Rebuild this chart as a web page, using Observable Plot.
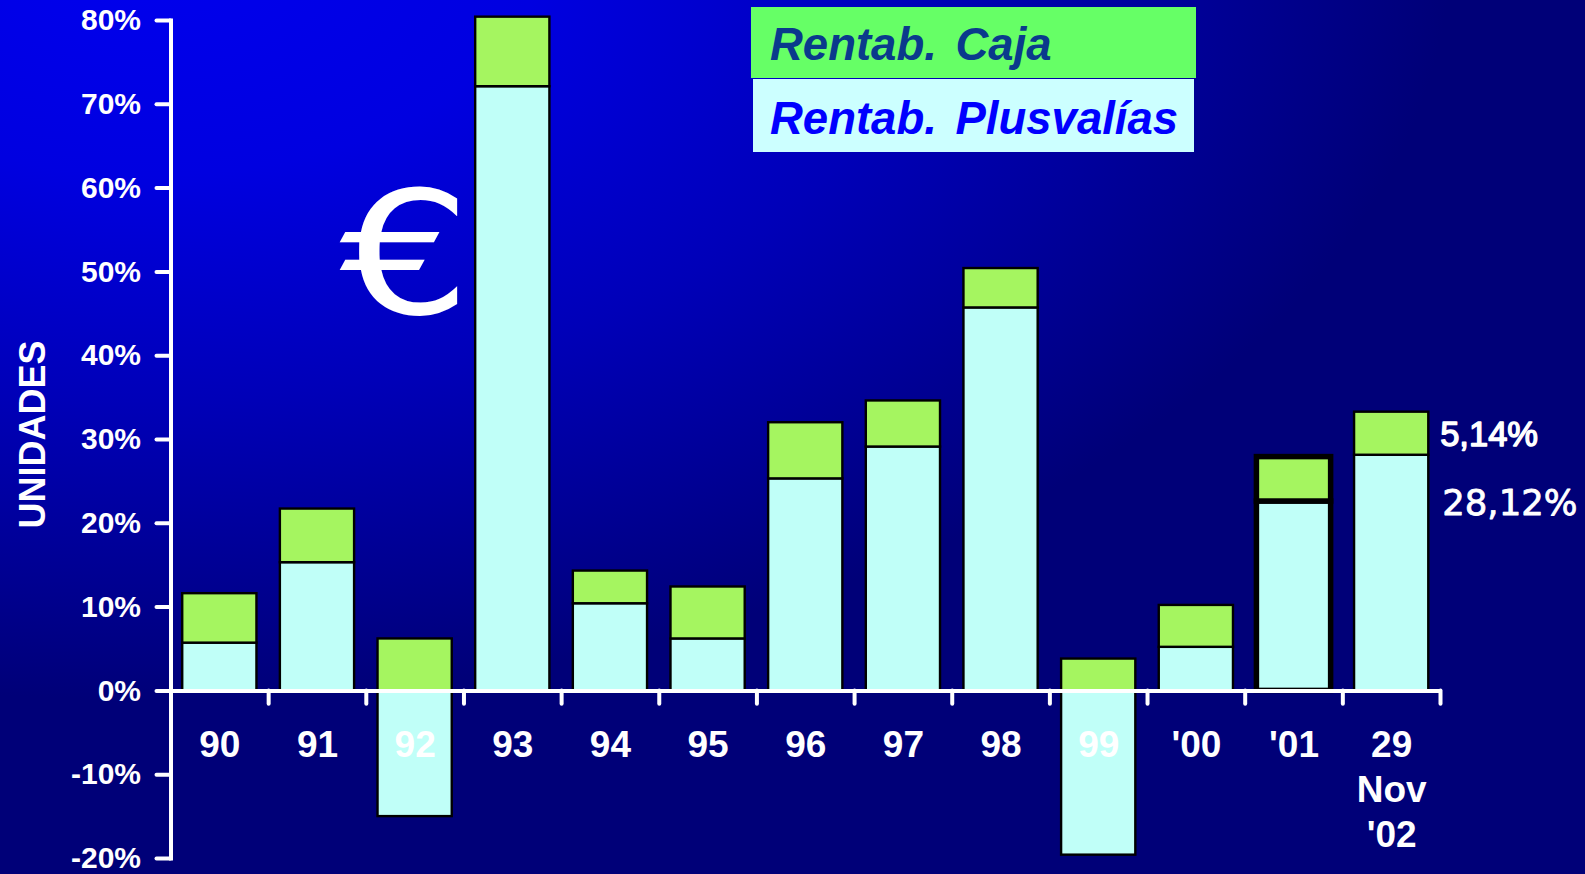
<!DOCTYPE html>
<html>
<head>
<meta charset="utf-8">
<script src="https://cdn.jsdelivr.net/npm/d3@7"></script>
<script src="https://cdn.jsdelivr.net/npm/@observablehq/plot@0.6"></script>
<style>
html,body{margin:0;padding:0;width:1585px;height:874px;overflow:hidden;
background:radial-gradient(ellipse 1300px 750px at 150px -50px,#0000ee 0%,#0000e0 30%,#0000b8 60%,#000078 100%);}
#chart{position:absolute;left:0;top:0}
.lg{position:absolute;font:italic bold 45.5px "Liberation Sans",Arial,sans-serif;white-space:pre;word-spacing:6px;box-sizing:border-box;}
#lg1{left:751px;top:7px;width:445px;height:71px;line-height:75px;padding-left:19px;background:#66ff66;color:#0a3a8c}
#lg2{left:753px;top:79px;width:441px;height:73px;line-height:79px;padding-left:17px;background:#ccffff;color:#0000ff}
</style>
</head>
<body>
<div id="chart"></div>
<div class="lg" id="lg1">Rentab. Caja</div>
<div class="lg" id="lg2">Rentab. Plusvalías</div>
<script>
const categories = ["90","91","92","93","94","95","96","97","98","99","'00","'01","29\nNov\n'02"];
const plusvalias = [5.7,15.3,-15.0,72.1,10.4,6.2,25.3,29.1,45.7,-19.6,5.2,22.6,28.12];
const caja = [5.9,6.4,6.2,8.3,3.9,6.2,6.7,5.5,4.7,3.8,5.0,5.3,5.14];
const yTicks = [-20,-10,0,10,20,30,40,50,60,70,80];
const lastLabels = ["5,14%","28,12%"];
const lastLabelValues = [30.55,22.4];

const last = categories[categories.length-1];
const rows = [
  ...categories.map((c,i)=>({cat:c,series:"Plusvalías",value:plusvalias[i]})),
  ...categories.map((c,i)=>({cat:c,series:"Caja",value:caja[i]}))
];
const W = 1585, ML = 170.5, MR = 145;
const halfStep = (W-ML-MR)/categories.length/2;
const plot = Plot.plot({
  width:W, height:874,
  marginLeft:ML, marginRight:MR, marginTop:20, marginBottom:16,
  style:{background:"transparent",fontFamily:"Liberation Sans"},
  x:{domain:categories,paddingInner:0.24,paddingOuter:0.12,round:false,axis:null},
  y:{domain:[-20,80],axis:null},
  color:{domain:["Plusvalías","Caja"],range:["#c0fff8","#a5f560"]},
  marks:[
    Plot.barY(rows,Plot.stackY({
      x:"cat",y:"value",fill:"series",stroke:"black",
      strokeWidth:d=>d.cat==="'01"?5.5:2.4,order:null
    })),
    Plot.ruleY([0],{stroke:"white",strokeWidth:4}),
    Plot.frame({anchor:"left",stroke:"white",strokeWidth:4}),
    Plot.axisY(yTicks,{
      anchor:"left",tickSize:14,tickPadding:16,stroke:"white",fill:"white",
      strokeWidth:4,strokeLinecap:"round",color:"white",
      fontSize:30,fontWeight:"bold",label:null,tickFormat:d=>d+"%"
    }),
    Plot.ruleX(categories,{x:d=>d,y1:0,y2:-1.6,dx:halfStep,stroke:"white",strokeWidth:4,strokeLinecap:"round"}),
    Plot.text(categories,{x:d=>d,y:()=>0,text:d=>d,dy:34,lineAnchor:"top",lineHeight:1.22,
      fill:"white",fontSize:37,fontWeight:"bold"}),
    Plot.text(["UNIDADES"],{frameAnchor:"left",rotate:-90,dx:-138,dy:-5,fill:"white",fontSize:36,fontWeight:"bold",textAnchor:"middle"}),
    Plot.text(["€"],{x:()=>"92",y:()=>51.5,dx:-10,fontSize:172,fontFamily:"DejaVu Sans",fill:"white",lineAnchor:"middle"}),
    Plot.text([lastLabels[0]],{x:()=>last,y:()=>lastLabelValues[0],text:d=>d,fill:"white",stroke:"white",strokeWidth:1.4,textAnchor:"start",
      fontSize:34.5,dx:48.5}),
    Plot.text([lastLabels[1]],{x:()=>last,y:()=>lastLabelValues[1],text:d=>d,fill:"white",stroke:"white",strokeWidth:0.8,textAnchor:"start",
      fontSize:35.5,fontFamily:"DejaVu Sans",dx:50.5})
  ]
});
d3.select(plot).selectAll("text").filter(function(){return this.textContent==="€";})
  .attr("textLength",131).attr("lengthAdjust","spacingAndGlyphs");
document.getElementById("chart").appendChild(plot);
</script>
</body>
</html>
